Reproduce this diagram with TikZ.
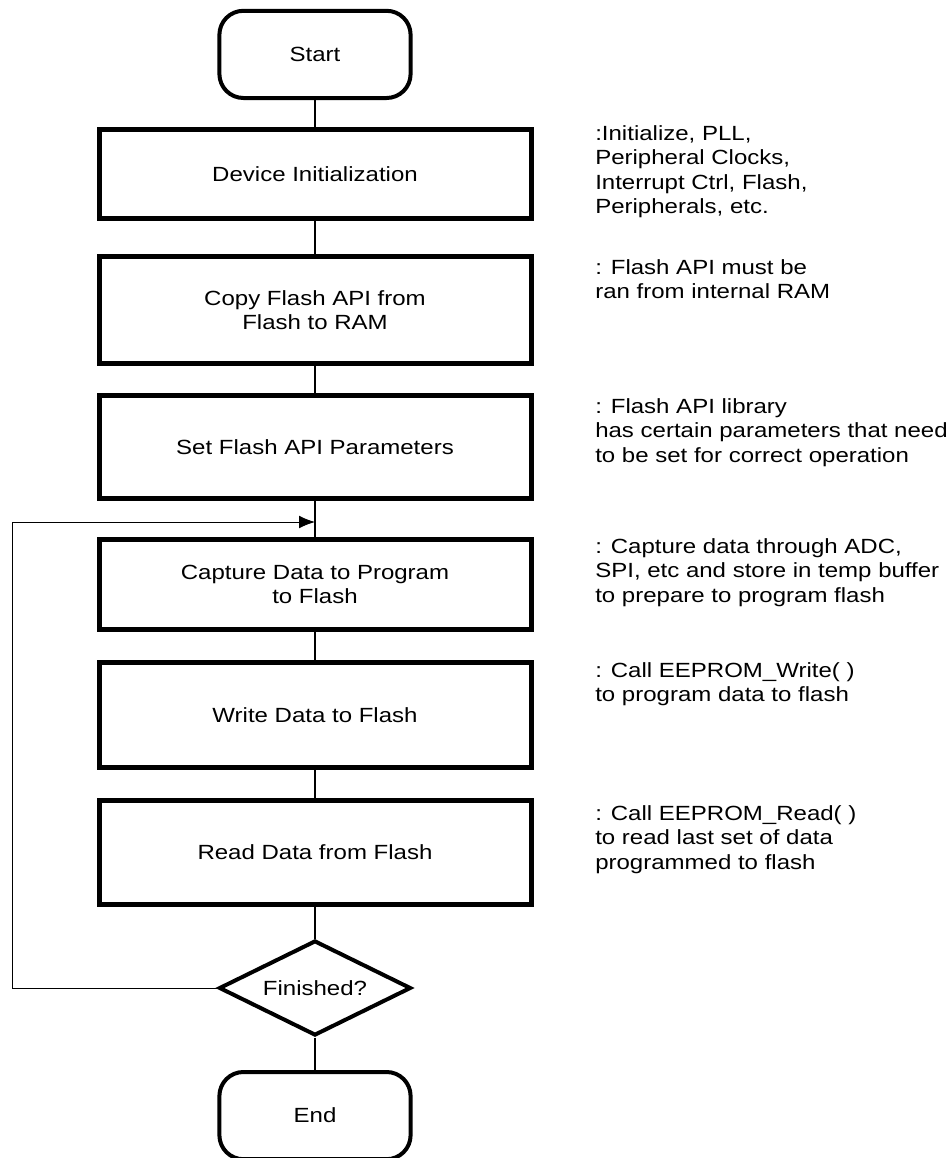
\documentclass[tikz,border=0pt]{standalone}
\usepackage{fontspec}
\setmainfont[FakeStretch=1.17]{Liberation Sans}
\usetikzlibrary{shapes.geometric,arrows.meta}

\begin{document}
\begin{tikzpicture}[scale=1,
  termbox/.style={draw, line width=0.1cm, rounded corners=0.6cm, minimum width=4.78cm, minimum height=2.18cm, inner sep=0pt},
  stepbox/.style={draw, line width=0.125cm, minimum width=10.8cm, inner sep=0pt, align=center},
  decbox/.style={draw, diamond, shape aspect=2, line width=0.1cm, minimum width=4.8cm, minimum height=2.375cm, inner sep=0pt},
  notetext/.style={anchor=north west, inner sep=0pt, align=left},
  link/.style={line width=1.4pt},
  every node/.style={font=\fontsize{14.6}{17.4}\selectfont}]

\useasboundingbox (0,0) rectangle (23.7,-28.95);

% flow
\node[termbox] (start) at (7.875,-1.36) {Start};
\node[stepbox, minimum height=2.225cm] (init) at (7.875,-4.35) {Device Initialization};
\node[stepbox, minimum height=2.675cm] (copy) at (7.875,-7.75) {Copy Flash API from\\Flash to RAM};
\node[stepbox, minimum height=2.575cm] (param) at (7.875,-11.175) {Set Flash API Parameters};
\node[stepbox, minimum height=2.25cm] (capture) at (7.875,-14.61) {Capture Data to Program\\to Flash};
\node[stepbox, minimum height=2.625cm] (write) at (7.875,-17.875) {Write Data to Flash};
\node[stepbox, minimum height=2.6cm] (read) at (7.875,-21.31) {Read Data from Flash};
\node[decbox] (done) at (7.875,-24.7) {Finished?};
\node[termbox] (end) at (7.875,-27.89) {End};

\draw [link] (start) -- (init);
\draw [link] (init) -- (copy);
\draw [link] (copy) -- (param);
\draw [link] (param) -- (capture);
\draw [link] (capture) -- (write);
\draw [link] (write) -- (read);
\draw [link] (read) -- (done);
\draw [line width=1.1pt] (done) -- (end);

% loop back
\coordinate (loopleft) at (0.3,-13.05);
\coordinate (loopin) at (7.875,-13.05);
\draw [->,>={Latex[length=0.4cm,width=0.32cm]}, line width=0.7pt] (done.west) -| (loopleft) -- (loopin);

% notes
\node[notetext] (n1) at (14.875,-3.125) {:Initialize, PLL,\\Peripheral Clocks,\\Interrupt Ctrl, Flash,\\Peripherals, etc.};
\node[notetext] (n2) at (14.875,-6.475) {: Flash API must be\\ran from internal RAM};
\node[notetext] (n3) at (14.875,-9.95) {: Flash API library\\has certain parameters that need\\to be set for correct operation};
\node[notetext] (n4) at (14.875,-13.45) {: Capture data through ADC,\\SPI, etc and store in temp buffer\\to prepare to program flash};
\node[notetext] (n5) at (14.875,-16.55) {: Call EEPROM\_Write( )\\to program data to flash};
\node[notetext] (n6) at (14.875,-20.125) {: Call EEPROM\_Read( )\\to read last set of data\\programmed to flash};

\end{tikzpicture}
\end{document}
